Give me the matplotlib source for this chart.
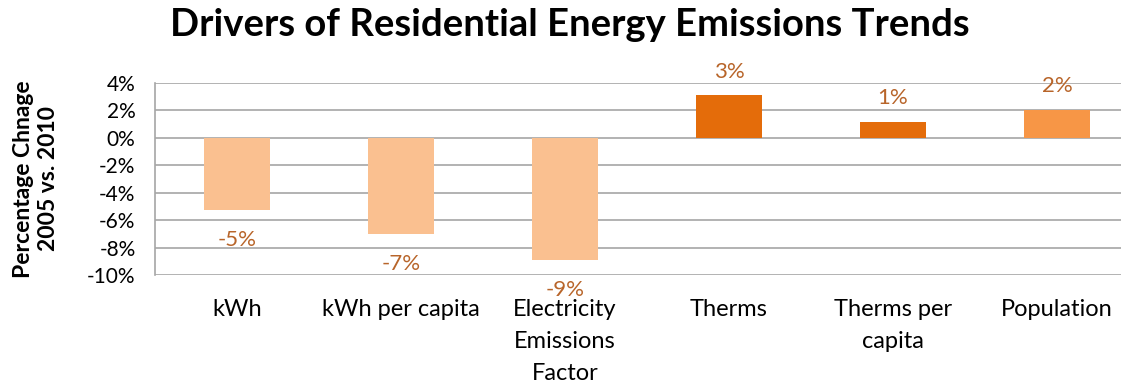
import numpy as np
import matplotlib.pyplot as plt
from matplotlib.ticker import FuncFormatter

categories = ["kWh", "kWh per capita", "Electricity\nEmissions\nFactor",
              "Therms", "Therms per\ncapita", "Population"]
change_pct = [-5.3, -7.05, -8.93, 3.07, 1.12, 2.0]
label_text = ["-5%", "-7%", "-9%", "3%", "1%", "2%"]
bar_colors = ["#FAC090", "#FAC090", "#FAC090", "#E46C0A", "#E46C0A", "#F79646"]

plt.rcParams["font.family"] = ["Lato", "DejaVu Sans"]

fig = plt.figure(figsize=(11.21, 3.88), dpi=100)
ax = fig.add_axes([155 / 1121, 113 / 388, 984 / 1121, 192.3 / 388])

x = np.arange(len(categories))
ax.bar(x, change_pct, width=0.4, color=bar_colors, zorder=3)

# value labels sit just beyond the end of each bar
for xi, v, t in zip(x, change_pct, label_text):
    if v >= 0:
        ax.annotate(t, (xi, v), xytext=(0, 10), textcoords="offset points",
                    ha="center", va="bottom", fontsize=16, color="#B8652A")
    else:
        ax.annotate(t, (xi, v), xytext=(0, -14), textcoords="offset points",
                    ha="center", va="top", fontsize=16, color="#B8652A")

ax.set_xlim(-0.5, len(categories) - 0.5)
ax.set_ylim(-10, 4)
ax.set_yticks(np.arange(-10, 5, 2))
ax.yaxis.set_major_formatter(FuncFormatter(lambda v, p: f"{v:.0f}%"))
ax.grid(axis="y", color="#A6A6A6", linewidth=1.2, zorder=0)
ax.set_xticks(x)
ax.set_xticklabels(categories, fontsize=17, linespacing=1.65, va="top")
ax.tick_params(axis="x", length=0, pad=17)
ax.tick_params(axis="y", length=0, labelsize=15, pad=14)

for side in ["top", "right", "bottom"]:
    ax.spines[side].set_visible(False)
ax.spines["left"].set_color("#A6A6A6")
ax.spines["left"].set_linewidth(1.2)

ax.set_ylabel("Percentage Chnage\n2005 vs. 2010", fontsize=16.5, fontweight="bold",
              linespacing=1.25, labelpad=20)

fig.text(0.508, 0.935, "Drivers of Residential Energy Emissions Trends",
         ha="center", va="center", fontsize=27.5, fontweight="bold")

fig.savefig("out.png", dpi=100)
